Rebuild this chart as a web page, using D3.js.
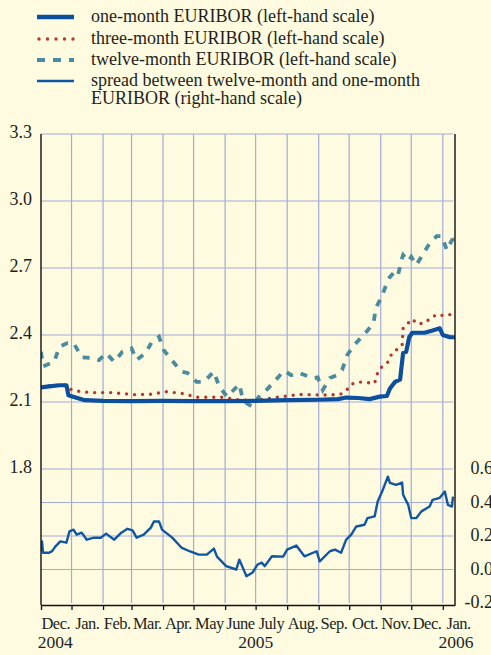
<!DOCTYPE html>
<html>
<head>
<meta charset="utf-8">
<script src="https://cdn.jsdelivr.net/npm/d3@7"></script>
<style>
  html, body { margin: 0; padding: 0; background: #fefbe0; }
  svg { display: block; }
</style>
</head>
<body>
<svg id="chart" width="491" height="655"></svg>
<script>
/* EURIBOR chart: one-, three- and twelve-month rates on the left scale,
   12m-1m spread on the right scale. */

const oneMonth = [
  ["2004-12-02", 2.165], ["2004-12-10", 2.17], ["2004-12-20", 2.175], ["2004-12-27", 2.175],
  ["2004-12-29", 2.13], ["2005-01-05", 2.12], ["2005-01-14", 2.108], ["2005-02-01", 2.105],
  ["2005-03-01", 2.104], ["2005-04-01", 2.105], ["2005-05-01", 2.104], ["2005-06-01", 2.104],
  ["2005-07-01", 2.105], ["2005-08-01", 2.108], ["2005-09-01", 2.11], ["2005-09-20", 2.113],
  ["2005-09-28", 2.12], ["2005-10-10", 2.118], ["2005-10-21", 2.113], ["2005-10-31", 2.124],
  ["2005-11-07", 2.127], ["2005-11-10", 2.16], ["2005-11-15", 2.19], ["2005-11-20", 2.2],
  ["2005-11-23", 2.32], ["2005-11-26", 2.325], ["2005-11-29", 2.39], ["2005-12-02", 2.41],
  ["2005-12-14", 2.41], ["2005-12-22", 2.42], ["2005-12-29", 2.43], ["2006-01-01", 2.40],
  ["2006-01-08", 2.39], ["2006-01-13", 2.39]
];

const threeMonth = [
  ["2004-12-02", 2.17], ["2004-12-10", 2.172], ["2004-12-20", 2.175], ["2004-12-27", 2.175],
  ["2004-12-29", 2.16], ["2005-01-05", 2.15], ["2005-01-20", 2.142], ["2005-02-10", 2.142],
  ["2005-03-04", 2.133], ["2005-03-21", 2.135], ["2005-04-04", 2.146], ["2005-04-20", 2.138],
  ["2005-05-05", 2.121], ["2005-05-30", 2.121], ["2005-06-14", 2.11], ["2005-06-29", 2.106],
  ["2005-07-14", 2.116], ["2005-08-13", 2.134], ["2005-09-07", 2.131], ["2005-09-22", 2.134],
  ["2005-09-28", 2.15], ["2005-10-03", 2.179], ["2005-10-10", 2.19], ["2005-10-26", 2.184],
  ["2005-10-28", 2.22], ["2005-10-31", 2.25], ["2005-11-04", 2.262], ["2005-11-09", 2.283],
  ["2005-11-12", 2.32], ["2005-11-17", 2.335], ["2005-11-22", 2.352], ["2005-11-23", 2.43],
  ["2005-11-27", 2.449], ["2005-12-02", 2.471], ["2005-12-07", 2.449], ["2005-12-15", 2.455],
  ["2005-12-20", 2.477], ["2005-12-27", 2.493], ["2006-01-02", 2.486], ["2006-01-10", 2.493],
  ["2006-01-13", 2.495]
];

const twelveMonth = [
  ["2004-12-02", 2.325], ["2004-12-04", 2.26], ["2004-12-15", 2.28], ["2004-12-20", 2.347],
  ["2004-12-28", 2.364], ["2005-01-03", 2.364], ["2005-01-08", 2.325], ["2005-01-11", 2.30],
  ["2005-01-21", 2.297], ["2005-01-28", 2.288], ["2005-02-04", 2.319], ["2005-02-12", 2.28],
  ["2005-02-20", 2.325], ["2005-03-01", 2.34], ["2005-03-06", 2.288], ["2005-03-15", 2.319],
  ["2005-03-21", 2.37], ["2005-03-28", 2.392], ["2005-04-02", 2.33], ["2005-04-10", 2.285],
  ["2005-04-19", 2.236], ["2005-04-25", 2.23], ["2005-05-04", 2.19], ["2005-05-11", 2.19],
  ["2005-05-21", 2.236], ["2005-05-26", 2.17], ["2005-06-03", 2.124], ["2005-06-15", 2.18],
  ["2005-06-18", 2.12], ["2005-06-22", 2.095], ["2005-06-28", 2.078], ["2005-07-05", 2.13],
  ["2005-07-13", 2.16], ["2005-07-21", 2.2], ["2005-07-29", 2.24], ["2005-08-05", 2.22],
  ["2005-08-13", 2.23], ["2005-08-26", 2.207], ["2005-08-31", 2.21], ["2005-09-05", 2.154],
  ["2005-09-12", 2.207], ["2005-09-19", 2.22], ["2005-09-24", 2.243], ["2005-09-29", 2.31],
  ["2005-10-06", 2.355], ["2005-10-13", 2.39], ["2005-10-19", 2.42], ["2005-10-25", 2.454],
  ["2005-10-27", 2.52], ["2005-11-02", 2.571], ["2005-11-07", 2.633], ["2005-11-10", 2.66],
  ["2005-11-15", 2.684], ["2005-11-18", 2.669], ["2005-11-22", 2.745], ["2005-11-23", 2.758],
  ["2005-11-28", 2.73], ["2005-12-01", 2.75], ["2005-12-06", 2.713], ["2005-12-12", 2.758],
  ["2005-12-19", 2.81], ["2005-12-26", 2.843], ["2005-12-31", 2.843], ["2006-01-05", 2.78],
  ["2006-01-10", 2.825], ["2006-01-13", 2.83]
];

const spread = [
  ["2004-12-02", 0.109], ["2004-12-03", 0.168], ["2004-12-04", 0.10], ["2004-12-10", 0.10],
  ["2004-12-13", 0.11], ["2004-12-16", 0.137], ["2004-12-21", 0.168], ["2004-12-27", 0.16],
  ["2004-12-30", 0.228], ["2005-01-03", 0.238], ["2005-01-06", 0.208], ["2005-01-11", 0.22],
  ["2005-01-16", 0.178], ["2005-01-23", 0.19], ["2005-01-30", 0.19], ["2005-02-04", 0.214],
  ["2005-02-12", 0.178], ["2005-02-19", 0.22], ["2005-02-25", 0.243], ["2005-03-02", 0.234],
  ["2005-03-06", 0.19], ["2005-03-13", 0.208], ["2005-03-20", 0.25], ["2005-03-23", 0.287],
  ["2005-03-28", 0.287], ["2005-03-31", 0.238], ["2005-04-10", 0.19], ["2005-04-19", 0.131],
  ["2005-04-27", 0.109], ["2005-05-06", 0.089], ["2005-05-14", 0.089], ["2005-05-21", 0.125],
  ["2005-05-24", 0.077], ["2005-06-02", 0.02], ["2005-06-12", 0.0], ["2005-06-15", 0.059],
  ["2005-06-22", -0.04], ["2005-06-28", -0.018], ["2005-07-03", 0.03], ["2005-07-07", 0.041],
  ["2005-07-10", 0.02], ["2005-07-17", 0.079], ["2005-07-28", 0.077], ["2005-08-01", 0.119],
  ["2005-08-10", 0.143], ["2005-08-18", 0.079], ["2005-08-30", 0.109], ["2005-09-02", 0.049],
  ["2005-09-12", 0.109], ["2005-09-17", 0.119], ["2005-09-23", 0.10], ["2005-09-28", 0.178],
  ["2005-10-03", 0.208], ["2005-10-08", 0.257], ["2005-10-16", 0.267], ["2005-10-19", 0.307],
  ["2005-10-26", 0.317], ["2005-10-29", 0.406], ["2005-11-03", 0.475], ["2005-11-08", 0.554],
  ["2005-11-10", 0.517], ["2005-11-16", 0.505], ["2005-11-22", 0.519], ["2005-11-23", 0.446],
  ["2005-11-28", 0.386], ["2005-12-01", 0.307], ["2005-12-06", 0.307], ["2005-12-11", 0.347],
  ["2005-12-19", 0.376], ["2005-12-22", 0.416], ["2005-12-29", 0.428], ["2006-01-03", 0.465],
  ["2006-01-06", 0.386], ["2006-01-10", 0.376], ["2006-01-11", 0.435]
];

const leftTicks = [1.8, 2.1, 2.4, 2.7, 3.0, 3.3];
const rightTicks = [-0.2, 0.0, 0.2, 0.4, 0.6];
const monthLabels = ["Dec.", "Jan.", "Feb.", "Mar.", "Apr.", "May", "June", "July",
                     "Aug.", "Sep.", "Oct.", "Nov.", "Dec.", "Jan."];
const yearLabels = [["2004", "2004-12-16"], ["2005", "2005-07-01"], ["2006", "2006-01-14"]];
const legendLabels = [
  ["one-month EURIBOR (left-hand scale)"],
  ["three-month EURIBOR (left-hand scale)"],
  ["twelve-month EURIBOR (left-hand scale)"],
  ["spread between twelve-month and one-month", "EURIBOR (right-hand scale)"]
];

(function () {
  const FONT = "'Liberation Serif', 'Times New Roman', serif";
  const INK = "#231f20";
  const parse = d3.timeParse("%Y-%m-%d");
  const toPts = arr => arr.map(([d, v]) => ({ date: parse(d), v }));

  const plotTop = 134, plotBottom = 603, plotLeft = 41, plotRight = 455;
  const x = d3.scaleTime().domain([parse("2004-12-02"), parse("2006-01-13")]).range([plotLeft, plotRight]);
  const yL = d3.scaleLinear().domain([1.2, 3.3]).range([plotBottom, plotTop]);
  const yR = d3.scaleLinear().domain([-0.2, 2.6]).range([plotBottom, plotTop]);

  const gridColor = "#a2abd8";
  const svg = d3.select("#chart");

  svg.append("defs").append("clipPath").attr("id", "plotClip")
    .append("rect").attr("x", plotLeft).attr("y", plotTop - 4)
    .attr("width", plotRight - plotLeft).attr("height", plotBottom - plotTop + 8);

  // Grid
  const monthStarts = d3.timeMonth.range(parse("2005-01-01"), parse("2006-01-02"));
  const grid = svg.append("g");
  grid.selectAll("line.v").data(monthStarts).join("line").attr("class", "v")
    .attr("x1", d => x(d)).attr("x2", d => x(d))
    .attr("y1", plotTop).attr("y2", plotBottom)
    .attr("stroke", gridColor).attr("stroke-width", 1.2);
  grid.selectAll("line.hl").data(leftTicks).join("line").attr("class", "hl")
    .attr("x1", plotLeft).attr("x2", plotRight - 2)
    .attr("y1", d => yL(d)).attr("y2", d => yL(d))
    .attr("stroke", gridColor).attr("stroke-width", 1.2);
  grid.selectAll("line.hr").data([0.0, 0.2, 0.4]).join("line").attr("class", "hr")
    .attr("x1", plotLeft).attr("x2", plotRight - 2)
    .attr("y1", d => yR(d)).attr("y2", d => yR(d))
    .attr("stroke", gridColor).attr("stroke-width", 1.2);

  // Series
  const lineL = d3.line().x(d => x(d.date)).y(d => yL(d.v));
  const lineR = d3.line().x(d => x(d.date)).y(d => yR(d.v));
  const plot = svg.append("g").attr("clip-path", "url(#plotClip)");

  plot.append("path").datum(toPts(twelveMonth)).attr("d", lineL)
    .attr("fill", "none").attr("stroke", "#4a8b9f").attr("stroke-width", 3.8)
    .attr("stroke-dasharray", "7 8");
  plot.append("path").datum(toPts(threeMonth)).attr("d", lineL)
    .attr("fill", "none").attr("stroke", "#ae3a30").attr("stroke-width", 3.4)
    .attr("stroke-linecap", "round").attr("stroke-dasharray", "0 8");
  plot.append("path").datum(toPts(oneMonth)).attr("d", lineL)
    .attr("fill", "none").attr("stroke", "#0b4f9e").attr("stroke-width", 4.2)
    .attr("stroke-linejoin", "round");
  plot.append("path").datum(toPts(spread)).attr("d", lineR)
    .attr("fill", "none").attr("stroke", "#1156a3").attr("stroke-width", 2.4)
    .attr("stroke-linejoin", "round");

  // Axes frame
  svg.append("line").attr("x1", plotLeft).attr("x2", plotLeft)
    .attr("y1", plotTop).attr("y2", plotBottom + 2)
    .attr("stroke", "#111").attr("stroke-width", 1.4);
  svg.append("line").attr("x1", plotRight).attr("x2", plotRight)
    .attr("y1", plotTop).attr("y2", plotBottom + 2)
    .attr("stroke", "#111").attr("stroke-width", 1.4);

  const xAxis = d3.axisBottom(x)
    .tickValues([x.domain()[0], ...monthStarts])
    .tickSize(5).tickSizeOuter(0).tickFormat("");
  svg.append("g").attr("transform", `translate(0,${plotBottom + 2})`).call(xAxis)
    .call(g => g.selectAll("path, line").attr("stroke", "#111").attr("stroke-width", 1.3));

  // Month and year labels
  const monthBounds = d3.timeMonth.range(parse("2004-12-01"), parse("2006-01-02"));
  svg.append("g").selectAll("text").data(monthBounds).join("text")
    .attr("x", d => (x(d) + x(d3.timeMonth.offset(d, 1))) / 2)
    .attr("y", 629)
    .attr("text-anchor", "middle")
    .style("font-family", FONT).attr("font-size", 16.5).attr("fill", INK)
    .attr("letter-spacing", "-0.5")
    .text((d, i) => monthLabels[i]);
  svg.append("g").selectAll("text").data(yearLabels).join("text")
    .attr("x", d => x(parse(d[1])))
    .attr("y", 648)
    .attr("text-anchor", "middle")
    .style("font-family", FONT).attr("font-size", 17.5).attr("fill", INK)
    .text(d => d[0]);

  // Tick labels
  const leftAxis = d3.axisLeft(yL).tickValues(leftTicks).tickSize(0).tickPadding(9)
    .tickFormat(d => d.toFixed(1));
  svg.append("g").attr("transform", `translate(${plotLeft},0)`).call(leftAxis)
    .call(g => g.select(".domain").remove())
    .call(g => g.selectAll("text").style("font-family", FONT).attr("font-size", 18)
      .attr("fill", INK).attr("dy", "0.18em"));

  const rightAxis = d3.axisRight(yR).tickValues(rightTicks).tickSize(0).tickPadding(38)
    .tickFormat(d => d.toFixed(1));
  svg.append("g").attr("transform", `translate(${plotRight},0)`).call(rightAxis)
    .call(g => g.select(".domain").remove())
    .call(g => g.selectAll("text").style("font-family", FONT).attr("font-size", 18)
      .attr("fill", INK).attr("text-anchor", "end").attr("dy", "0.25em"));

  // Legend
  const legendStyles = [
    { color: "#0b4f9e", width: 4.5, dash: null, cap: "butt" },
    { color: "#ae3a30", width: 3.4, dash: "0 8.5", cap: "round" },
    { color: "#4a8b9f", width: 4, dash: "8 8", cap: "butt" },
    { color: "#1156a3", width: 2.4, dash: null, cap: "butt" }
  ];
  const legendRowY = [17, 39, 60, 81];
  const legend = svg.append("g");
  legendLabels.forEach((lines, i) => {
    const st = legendStyles[i];
    legend.append("line")
      .attr("x1", st.cap === "round" ? 39 : 37).attr("x2", 74)
      .attr("y1", legendRowY[i]).attr("y2", legendRowY[i])
      .attr("stroke", st.color).attr("stroke-width", st.width)
      .attr("stroke-dasharray", st.dash).attr("stroke-linecap", st.cap);
    lines.forEach((t, j) => {
      legend.append("text")
        .attr("x", 91).attr("y", legendRowY[i] + 5 + j * 17.5)
        .style("font-family", FONT).attr("font-size", 18).attr("fill", INK)
        .text(t);
    });
  });
})();
</script>
</body>
</html>
